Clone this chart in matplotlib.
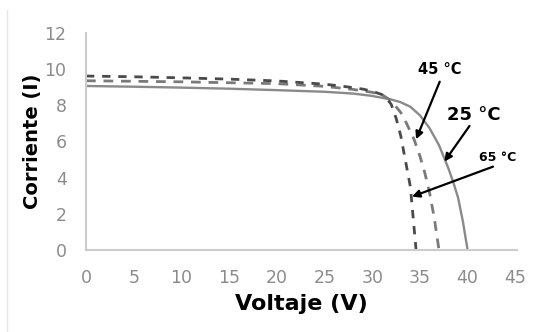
import numpy as np
import matplotlib.pyplot as plt
from matplotlib.lines import Line2D

# I-V curves
v_25 = [0, 5, 10, 15, 20, 25, 28, 30, 32, 33, 34, 35, 36, 37, 38, 38.5, 39, 39.5, 40]
i_25 = [9.07, 9.03, 8.98, 8.92, 8.84, 8.75, 8.65, 8.52, 8.32, 8.17, 7.92, 7.45, 6.75, 5.8, 4.5, 3.75, 2.9, 1.6, 0]

v_45 = [0, 10, 20, 25, 28, 30, 31, 32, 33, 33.6, 34.4, 35, 35.5, 36, 36.5, 37]
i_45 = [9.36, 9.3, 9.2, 9.05, 8.88, 8.72, 8.6, 8.25, 7.6, 7.0, 6.1, 5.2, 4.3, 3.2, 1.8, 0]

v_65 = [0, 5, 10, 15, 20, 25, 27, 29, 30, 31, 31.5, 32, 32.5, 33, 33.5, 34, 34.6]
i_65 = [9.62, 9.58, 9.52, 9.45, 9.35, 9.17, 9.05, 8.9, 8.78, 8.6, 8.4, 8.05, 7.3, 6.3, 4.9, 3.5, 0]

x_ticks = [0, 5, 10, 15, 20, 25, 30, 35, 40, 45]
y_ticks = [0, 2, 4, 6, 8, 10, 12]

# labels: text, text position, arrow start, arrow tip, font size
notes = [
    ("45 °C", (37.1, 9.96), (37.08, 9.31), (34.6, 6.12), 10.5),
    ("25 °C", (40.6, 7.47), (40.2, 6.86), (37.57, 4.89), 13),
    ("65 °C", (43.2, 5.14), (42.67, 4.61), (34.17, 2.95), 9),
]

fig = plt.figure(figsize=(5.41, 3.32), dpi=100)
ax = fig.add_axes([0.159, 0.247, 0.797, 0.6536])

ax.plot(v_25, i_25, color='#8a8a8a', lw=1.7)
ax.plot(v_45, i_45, color='#7a7a7a', lw=2.0, dashes=(3.5, 2.8))
ax.plot(v_65, i_65, color='#4a4a4a', lw=2.0, dashes=(3, 2.8))

for txt, pos, start, tip, fs in notes:
    ax.text(pos[0], pos[1], txt, ha='center', va='center', fontsize=fs,
            fontweight='heavy', color='black')
    ax.annotate('', xy=tip, xytext=start,
                arrowprops=dict(arrowstyle='-|>', color='black', lw=1.6,
                                mutation_scale=11, shrinkA=0, shrinkB=0))

ax.set_xlim(0, 45.2)
ax.set_ylim(0, 12)
ax.set_xticks(x_ticks)
ax.set_yticks(y_ticks)
ax.tick_params(length=0, labelsize=12.5, labelcolor='#8c8c8c', pad=14)
for s in ['top', 'right']:
    ax.spines[s].set_visible(False)
for s in ['left', 'bottom']:
    ax.spines[s].set_color('#cccccc')
    ax.spines[s].set_linewidth(1.5)

ax.set_xlabel('Voltaje (V)', fontsize=16, fontweight='heavy', labelpad=5)
ax.set_ylabel('Corriente (I)', fontsize=14, fontweight='heavy', labelpad=2)

# faint frame edge on the left of the original scan
fig.add_artist(Line2D([7 / 541, 7 / 541], [0, 1 - 10 / 332],
                      transform=fig.transFigure, color='#e6e6e6', lw=1))

fig.savefig('out.png', dpi=100)
